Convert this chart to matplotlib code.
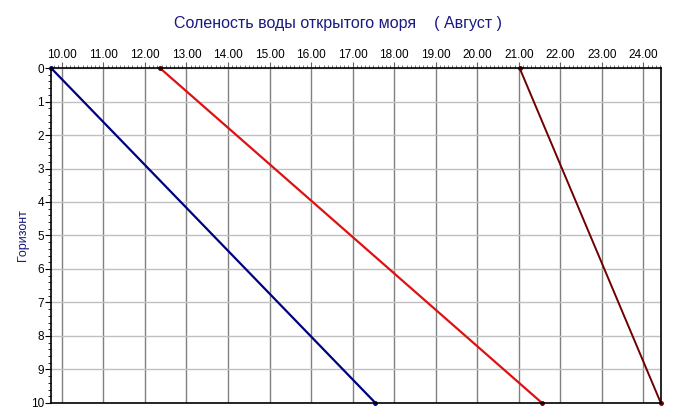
import matplotlib.pyplot as plt
from matplotlib.ticker import MultipleLocator, FormatStrFormatter

# Horizons and salinity values for the three series
horizon = [0, 10]
sal_blue = [9.74, 17.55]
sal_red = [12.36, 21.56]
sal_dark = [21.02, 24.42]

plt.rcParams['font.family'] = ['Liberation Sans', 'DejaVu Sans']

fig = plt.figure(figsize=(6.75, 4.19), dpi=100)
ax = fig.add_axes([0.0756, 0.0382, 0.979 - 0.0756, 0.8377 - 0.0382])

ax.plot(sal_blue, horizon, color='#000080', lw=1.6, marker='o', ms=2.5,
        clip_on=False)
ax.plot(sal_red, horizon, color='#dd1111', lw=1.6, marker='o', ms=2.5,
        mfc='#600000', mec='#600000', clip_on=False)
ax.plot(sal_dark, horizon, color='#700000', lw=1.4, marker='o', ms=2.5,
        clip_on=False)

ax.set_xlim(9.74, 24.42)
ax.set_ylim(10, 0)

ax.xaxis.tick_top()
ax.xaxis.set_major_locator(MultipleLocator(1))
ax.xaxis.set_minor_locator(MultipleLocator(0.1))
ax.xaxis.set_major_formatter(FormatStrFormatter('%.2f'))
ax.yaxis.set_major_locator(MultipleLocator(1))
ax.yaxis.set_minor_locator(MultipleLocator(0.2))

ax.tick_params(axis='x', which='major', length=4, labelsize=8.5, pad=1,
               direction='out', color='#606060')
ax.tick_params(axis='x', which='minor', length=2.5, direction='out',
               color='#606060')
ax.tick_params(axis='y', which='major', length=4, labelsize=8.5, pad=1)
ax.tick_params(axis='y', which='minor', length=2)

# vertical grid darker than horizontal, as in the original
ax.xaxis.grid(True, which='major', color='#808080', lw=1)
ax.yaxis.grid(True, which='major', color='#c0c0c0', lw=1)
ax.set_axisbelow(True)
for s in ax.spines.values():
    s.set_color('black')
    s.set_linewidth(1.2)

ax.set_ylabel('Горизонт', fontsize=9, color='#1a1a80')
ax.yaxis.set_label_coords(-0.036, 0.5)
fig.text(0.5, 0.945, 'Соленость воды открытого моря    ( Август )',
         ha='center', va='center', fontsize=11.5, color='#1a1a80')

fig.savefig('out.png', dpi=100)
